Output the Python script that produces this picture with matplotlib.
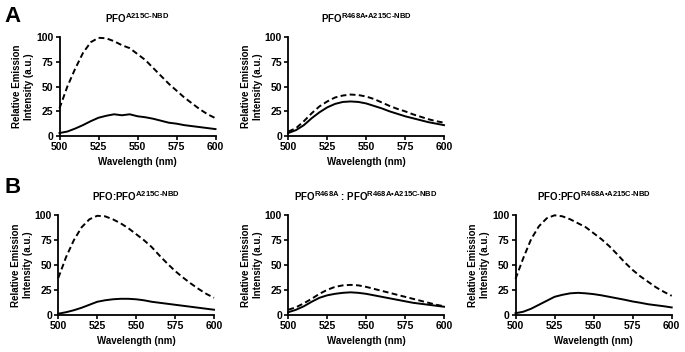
import matplotlib
matplotlib.use('Agg')
import matplotlib.pyplot as plt
try:
    import matplotlib._mathtext as _mt
    _mt.SHRINK_FACTOR = 0.78
except Exception:
    pass

plt.rcParams['font.family'] = ['Liberation Sans', 'DejaVu Sans']
plt.rcParams['font.weight'] = 'bold'
plt.rcParams['mathtext.fontset'] = 'custom'
plt.rcParams['mathtext.rm'] = 'Liberation Sans:bold'
plt.rcParams['mathtext.bf'] = 'Liberation Sans:bold'
plt.rcParams['mathtext.it'] = 'Liberation Sans:bold'
plt.rcParams['mathtext.sf'] = 'Liberation Sans:bold'
plt.rcParams['mathtext.default'] = 'bf'
plt.rcParams['lines.scale_dashes'] = False

# ---- data ----
wavelength = [500, 505, 510, 515, 520, 525, 530, 535, 540, 545, 550,
              555, 560, 565, 570, 575, 580, 585, 590, 595, 600]

a1_dashed = [28, 50, 68, 84, 95, 99.5, 99, 96, 92, 89, 83,
             77, 69, 61, 53, 46, 39, 33, 27, 22, 18]
a1_solid = [3, 4.5, 7.5, 11, 15, 18.5, 20.5, 22, 21, 22, 20,
            19, 17.5, 15.5, 13.5, 12.5, 11, 10, 9, 8, 7]

a2_dashed = [4.5, 8, 15, 23, 30, 35, 39, 41, 42, 41.5, 40,
             37.5, 34, 30.5, 27.5, 25, 22, 19.5, 17, 15, 13.5]
a2_solid = [3, 6, 11, 18, 24, 29, 32.5, 34.5, 35, 34.5, 33,
            30.5, 28, 25, 22.5, 20, 18, 16, 14, 12.5, 11]

b1_dashed = [37, 58, 75, 88, 96, 99.5, 99, 96, 92, 87, 81,
             75, 68, 59.5, 51.5, 44, 37.5, 31.5, 26, 21, 17]
b1_solid = [1, 2.5, 4.5, 7, 10, 13, 14.5, 15.5, 16, 16, 15.5,
            14.5, 13, 12, 11, 10, 9, 8, 7, 6, 5]

b2_dashed = [5, 7.5, 11.5, 16, 21, 25, 28, 29.5, 30, 29.5, 28,
             26, 24, 22, 20, 18, 16, 14, 12, 10, 8.5]
b2_solid = [2.5, 5, 8.5, 13, 17, 19.5, 21, 22, 22.5, 22, 21,
            19.5, 18, 16.5, 15, 13.5, 12, 11, 10, 9, 8]

b3_dashed = [36, 57, 76, 89, 97, 100, 99, 96, 92, 88, 82,
             76, 69, 61, 52.5, 45, 38.5, 33, 27.5, 23, 19]
b3_solid = [1.5, 3, 6, 10, 14, 18, 20, 21.5, 22, 21.5, 20.7,
            19.5, 18, 16.5, 15, 13.3, 12, 10.5, 9.5, 8.5, 7.3]

titles = [
    r'PFO$^{A215C\text{-}NBD}$',
    r'PFO$^{R468A•A215C\text{-}NBD}$',
    r'PFO:PFO$^{A215C\text{-}NBD}$',
    r'PFO$^{R468A}$ : PFO$^{R468A•A215C\text{-}NBD}$',
    r'PFO:PFO$^{R468A•A215C\text{-}NBD}$',
]
x_ticks = [500, 525, 550, 575, 600]
y_ticks = [0, 25, 50, 75, 100]
x_label = 'Wavelength (nm)'
y_label = 'Relative Emission\nIntensity (a.u.)'

series = [(a1_dashed, a1_solid), (a2_dashed, a2_solid),
          (b1_dashed, b1_solid), (b2_dashed, b2_solid),
          (b3_dashed, b3_solid)]

W, H = 685, 352
rects_px = [  # left, top(y=100), right, bottom(y=0) in pixels
    (59.5, 37.3, 215.5, 136.0),
    (288.3, 37.3, 444.0, 136.0),
    (58.3, 215.3, 214.0, 314.7),
    (288.3, 215.3, 444.0, 314.7),
    (515.5, 215.3, 671.7, 314.7),
]

fig = plt.figure(figsize=(W / 100, H / 100), dpi=100)
for (l, t, r, b), (dsh, sol), title in zip(rects_px, series, titles):
    ax = fig.add_axes([l / W, 1 - b / H, (r - l) / W, (b - t) / H])
    ax.plot(wavelength, dsh, color='black', lw=1.4, dashes=(4.2, 2.4),
            clip_on=False)
    ax.plot(wavelength, sol, color='black', lw=1.4, clip_on=False)
    ax.set_xlim(500, 600)
    ax.set_ylim(0, 100)
    ax.set_xticks(x_ticks)
    ax.set_yticks(y_ticks)
    for s in ('top', 'right'):
        ax.spines[s].set_visible(False)
    for s in ('left', 'bottom'):
        ax.spines[s].set_linewidth(1.3)
    ax.tick_params(direction='out', length=3, width=1.2, labelsize=7.5,
                   pad=1.5)
    for lab in ax.get_xticklabels() + ax.get_yticklabels():
        lab.set_fontweight('bold')
    ax.set_xlabel(x_label, fontsize=7, fontweight='bold', labelpad=3.5)
    ax.set_ylabel(y_label, fontsize=7, fontweight='bold', labelpad=1.5,
                  linespacing=1.25)
    ax.set_title(title, fontsize=7, fontweight='bold', pad=10)

fig.text(4 / W, 1 - 21.7 / H, 'A', fontsize=16, fontweight='bold',
         va='baseline')
fig.text(4 / W, 1 - 193 / H, 'B', fontsize=16, fontweight='bold',
         va='baseline')

fig.savefig('out.png', dpi=100)
